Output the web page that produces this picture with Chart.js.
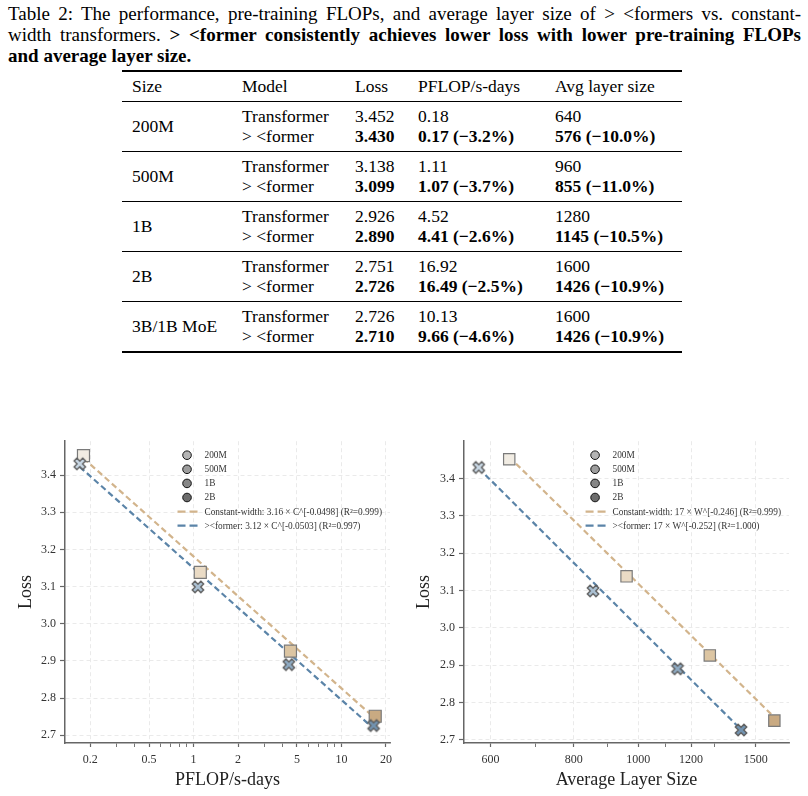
<!DOCTYPE html>
<html>
<head>
<meta charset="utf-8">
<script src="https://cdn.jsdelivr.net/npm/chart.js@4.4.1/dist/chart.umd.min.js"></script>
<style>
html,body{margin:0;padding:0;background:#fff;}
body{width:808px;height:796px;position:relative;overflow:hidden;font-family:"Liberation Serif","Times New Roman",serif;color:#000;}
#caption{position:absolute;left:8px;top:3px;width:793px;font-size:19px;line-height:21px;}
#caption .j{text-align:justify;text-align-last:justify;}
#tbl{position:absolute;left:122px;top:70px;width:560px;border-top:2px solid #000;border-bottom:2px solid #000;font-size:17.5px;}
.row{display:flex;align-items:center;box-sizing:border-box;}
.row.hdr{height:30px;border-bottom:1px solid #000;}
.row.body{height:50px;border-bottom:1px solid #000;}
.row.body.last{height:49px;border-bottom:none;}
.cell{line-height:19.5px;white-space:nowrap;}
.c1{width:110px;padding-left:10px;}
.c2{width:113px;}
.c3{width:63px;}
.c4{width:137px;}
.c5{width:127px;}
#c1{position:absolute;left:0;top:430px;}
#c2{position:absolute;left:404px;top:430px;}
</style>
</head>
<body>
<div id="caption">
<div class="j">Table 2: The performance, pre-training FLOPs, and average layer size of &gt; &lt;formers vs. constant-</div>
<div class="j">width transformers. <b>&gt; &lt;former consistently achieves lower loss with lower pre-training FLOPs</b></div>
<div><b>and average layer size.</b></div>
</div>
<div id="tbl"></div>
<canvas id="c1" width="400" height="366"></canvas>
<canvas id="c2" width="404" height="366"></canvas>
<script>
// ---------- table data ----------
const tableHeader = ['Size', 'Model', 'Loss', 'PFLOP/s-days', 'Avg layer size'];
const tableSizes = ['200M', '500M', '1B', '2B', '3B/1B MoE'];
const tableModels = ['Transformer', '> <former'];
const tableTfLoss = ['3.452', '3.138', '2.926', '2.751', '2.726'];
const tableFmLoss = ['3.430', '3.099', '2.890', '2.726', '2.710'];
const tableTfFlops = ['0.18', '1.11', '4.52', '16.92', '10.13'];
const tableFmFlops = ['0.17 (\u22123.2%)', '1.07 (\u22123.7%)', '4.41 (\u22122.6%)', '16.49 (\u22122.5%)', '9.66 (\u22124.6%)'];
const tableTfLayer = ['640', '960', '1280', '1600', '1600'];
const tableFmLayer = ['576 (\u221210.0%)', '855 (\u221211.0%)', '1145 (\u221210.5%)', '1426 (\u221210.9%)', '1426 (\u221210.9%)'];

// ---------- chart data ----------
const sizes = ['200M', '500M', '1B', '2B'];
const transformerLoss = [3.452, 3.138, 2.926, 2.751];
const formerLoss = [3.430, 3.099, 2.890, 2.726];
const transformerFlops = [0.18, 1.11, 4.52, 16.92];
const formerFlops = [0.17, 1.07, 4.41, 16.49];
const transformerLayer = [640, 960, 1280, 1600];
const formerLayer = [576, 855, 1145, 1426];
// fit-line end points
const cwFitFlopsX = [0.18, 16.92];
const cwFitFlopsY = [3.445, 2.745];
const fmFitFlopsX = [0.17, 16.49];
const fmFitFlopsY = [3.422, 2.718];
const cwFitLayerX = [640, 1600];
const cwFitLayerY = [3.458, 2.760];
const fmFitLayerX = [576, 1426];
const fmFitLayerY = [3.428, 2.727];
const fitLabelsFlops = ['Constant-width: 3.16 \u00d7 C^[-0.0498] (R\u00b2=0.999)', '><former: 3.12 \u00d7 C^[-0.0503] (R\u00b2=0.997)'];
const fitLabelsLayer = ['Constant-width: 17 \u00d7 W^[-0.246] (R\u00b2=0.999)', '><former: 17 \u00d7 W^[-0.252] (R\u00b2=1.000)'];
// ticks
const lossTicks = [2.7, 2.8, 2.9, 3.0, 3.1, 3.2, 3.3, 3.4];
const lossTickLabels = ['2.7', '2.8', '2.9', '3.0', '3.1', '3.2', '3.3', '3.4'];
const flopsTicks = [0.2, 0.5, 1, 2, 5, 10, 20];
const flopsTickLabels = ['0.2', '0.5', '1', '2', '5', '10', '20'];
const flopsMinorTicks = [0.3, 0.4, 0.6, 0.7, 0.8, 0.9, 3, 4, 6, 7, 8, 9];
const layerTicks = [600, 800, 1000, 1200, 1500];
const layerTickLabels = ['600', '800', '1000', '1200', '1500'];
const layerMinorTicks = [700, 900, 1100, 1300];

// ---------- build table ----------
(function () {
  const t = document.getElementById('tbl');
  let h = '<div class="row hdr">' + tableHeader.map((s, i) => `<div class="cell c${i + 1}">${esc(s)}</div>`).join('') + '</div>';
  tableSizes.forEach((s, i) => {
    const last = i === tableSizes.length - 1 ? ' last' : '';
    h += `<div class="row body${last}">` +
      `<div class="cell c1">${esc(s)}</div>` +
      `<div class="cell c2">${esc(tableModels[0])}<br>${esc(tableModels[1])}</div>` +
      `<div class="cell c3">${tableTfLoss[i]}<br><b>${tableFmLoss[i]}</b></div>` +
      `<div class="cell c4">${tableTfFlops[i]}<br><b>${tableFmFlops[i]}</b></div>` +
      `<div class="cell c5">${tableTfLayer[i]}<br><b>${tableFmLayer[i]}</b></div>` +
      '</div>';
  });
  t.innerHTML = h;
  function esc(s) { return s.replace(/&/g, '&amp;').replace(/</g, '&lt;').replace(/>/g, '&gt;'); }
})();

// ---------- styles ----------
const FONT = '"Liberation Serif", "Times New Roman", serif';
Chart.defaults.font.family = FONT;
const squareFills = ['#f1ece3', '#eadbc5', '#dcc5a2', '#c9aa82'];
const crossFills = ['#c9d8e5', '#abc0d2', '#8fabc3', '#7293b0'];
const legendGrays = ['#b4b4b4', '#9d9d9d', '#868686', '#6c6c6c'];
const TAN = '#d2b48c';
const BLUE = '#5b84a8';
const GRID = '#e4e4e4';
const AXIS = '#666';

function makeX(fill) {
  const c = document.createElement('canvas');
  const S = 16; c.width = S; c.height = S;
  const g = c.getContext('2d');
  g.translate(S / 2, S / 2); g.rotate(Math.PI / 4);
  const t = 1.95, L = 6.1;
  const pts = [[t, L], [t, t], [L, t], [L, -t], [t, -t], [t, -L], [-t, -L], [-t, -t], [-L, -t], [-L, t], [-t, t], [-t, L]];
  g.beginPath();
  pts.forEach((p, i) => i ? g.lineTo(p[0], p[1]) : g.moveTo(p[0], p[1]));
  g.closePath();
  g.fillStyle = fill; g.fill();
  g.lineWidth = 1.4; g.strokeStyle = '#606060'; g.stroke();
  return c;
}
const crossImgs = crossFills.map(makeX);

function makeLegend(items) {
  return {
    id: 'innerLegend',
    afterDraw(chart) {
      const { ctx, chartArea } = chart;
      ctx.save();
      ctx.font = '9.3px ' + FONT;
      const widest = Math.max(...items.map(it => ctx.measureText(it.text).width));
      const x0 = chartArea.right - 8 - widest - 27;
      items.forEach((it, i) => {
        const y = chartArea.top + 14 + i * 14.1;
        if (it.kind === 'circle') {
          ctx.beginPath();
          ctx.arc(x0 + 9.5, y, 4.3, 0, Math.PI * 2);
          ctx.fillStyle = it.color; ctx.fill();
          ctx.lineWidth = 1; ctx.strokeStyle = '#111'; ctx.stroke();
        } else {
          ctx.beginPath();
          ctx.setLineDash([8, 4]);
          ctx.moveTo(x0, y); ctx.lineTo(x0 + 20, y);
          ctx.lineWidth = 2.2; ctx.strokeStyle = it.color; ctx.stroke();
          ctx.setLineDash([]);
        }
        ctx.fillStyle = '#333';
        ctx.textBaseline = 'middle';
        ctx.textAlign = 'left';
        ctx.fillText(it.text, x0 + 27, y + 0.5);
      });
      ctx.restore();
    }
  };
}

function pts(xs, ys) { return xs.map((x, i) => ({ x: x, y: ys[i] })); }

function buildChart(id, opt) {
  const majorSet = opt.xTicks;
  const legendItems = sizes.map((s, i) => ({ kind: 'circle', text: s, color: legendGrays[i] }))
    .concat([{ kind: 'line', text: opt.fitLabels[0], color: TAN }, { kind: 'line', text: opt.fitLabels[1], color: BLUE }]);
  return new Chart(document.getElementById(id), {
    type: 'scatter',
    data: {
      datasets: [
        { label: '><former', data: pts(opt.fmX, formerLoss), pointStyle: crossImgs, pointRadius: 6, pointHoverRadius: 6, order: 0 },
        { label: 'Transformer', data: pts(opt.tfX, transformerLoss), pointStyle: 'rect', pointRadius: opt.sq, pointHoverRadius: opt.sq,
          backgroundColor: squareFills, borderColor: '#7a7a7a', borderWidth: 1.2, order: 1 },
        { type: 'line', label: opt.fitLabels[1], data: pts(opt.fmFitX, opt.fmFitY), borderColor: BLUE, borderWidth: 2.2,
          borderDash: [6, 3.5], pointRadius: 0, fill: false, order: 2 },
        { type: 'line', label: opt.fitLabels[0], data: pts(opt.cwFitX, opt.cwFitY), borderColor: TAN, borderWidth: 2.2,
          borderDash: [6, 3.5], pointRadius: 0, fill: false, order: 3 }
      ]
    },
    plugins: [makeLegend(legendItems)],
    options: {
      animation: false, responsive: false, devicePixelRatio: 1,
      layout: { padding: { top: 10, right: opt.padRight, left: 0, bottom: 0 } },
      plugins: { legend: { display: false }, tooltip: { enabled: false } },
      scales: {
        x: {
          type: 'logarithmic', min: opt.xMin, max: opt.xMax,
          afterBuildTicks: s => { s.ticks = opt.xTicks.concat(opt.xMinor).sort((a, b) => a - b).map(v => ({ value: v })); },
          afterFit: s => { s.height = 53; },
          ticks: {
            autoSkip: false, maxRotation: 0, minRotation: 0, padding: 6, color: '#333', font: { size: 12 },
            callback: v => { const i = majorSet.indexOf(v); return i >= 0 ? opt.xTickLabels[i] : ''; }
          },
          grid: {
            color: c => (c.tick && majorSet.indexOf(c.tick.value) >= 0) ? GRID : 'rgba(0,0,0,0)',
            lineWidth: 0.8, tickLength: 4, tickColor: AXIS,
            tickWidth: c => (c.tick && majorSet.indexOf(c.tick.value) >= 0) ? 1.2 : 0.9
          },
          border: { display: true, color: AXIS, width: 1.5, dash: [4, 3] },
          title: { display: true, text: opt.xTitle, color: '#222', font: { size: 18 }, padding: { top: 0, bottom: 5 } }
        },
        y: {
          type: 'linear', min: opt.yMin, max: opt.yMax,
          afterBuildTicks: s => { s.ticks = lossTicks.map(v => ({ value: v })); },
          afterFit: s => { s.width = opt.yWidth; },
          ticks: {
            padding: 4, color: '#333', font: { size: 12 },
            callback: (v, i) => lossTickLabels[lossTicks.indexOf(Math.round(v * 10) / 10)] || ''
          },
          grid: { color: GRID, lineWidth: 0.8, tickLength: 5, tickColor: AXIS, tickWidth: 1.2 },
          border: { display: true, color: AXIS, width: 1.5, dash: [4, 3] },
          title: { display: true, text: 'Loss', color: '#222', font: { size: 18 }, padding: { top: opt.yTitlePad, bottom: 0 } }
        }
      }
    }
  });
}

buildChart('c1', {
  tfX: transformerFlops, fmX: formerFlops,
  cwFitX: cwFitFlopsX, cwFitY: cwFitFlopsY, fmFitX: fmFitFlopsX, fmFitY: fmFitFlopsY,
  fitLabels: fitLabelsFlops, xTicks: flopsTicks, xTickLabels: flopsTickLabels, xMinor: flopsMinorTicks,
  xMin: 0.135, xMax: 21.3, yMin: 2.679, yMax: 3.491, yWidth: 65, padRight: 10, yTitlePad: 15,
  xTitle: 'PFLOP/s-days', sq: 8.5
});
buildChart('c2', {
  tfX: transformerLayer, fmX: formerLayer,
  cwFitX: cwFitLayerX, cwFitY: cwFitLayerY, fmFitX: fmFitLayerX, fmFitY: fmFitLayerY,
  fitLabels: fitLabelsLayer, xTicks: layerTicks, xTickLabels: layerTickLabels, xMinor: layerMinorTicks,
  xMin: 547.4, xMax: 1683, yMin: 2.691, yMax: 3.5005, yWidth: 60, padRight: 19, yTitlePad: 9,
  xTitle: 'Average Layer Size', sq: 8
});
</script>
</body>
</html>
